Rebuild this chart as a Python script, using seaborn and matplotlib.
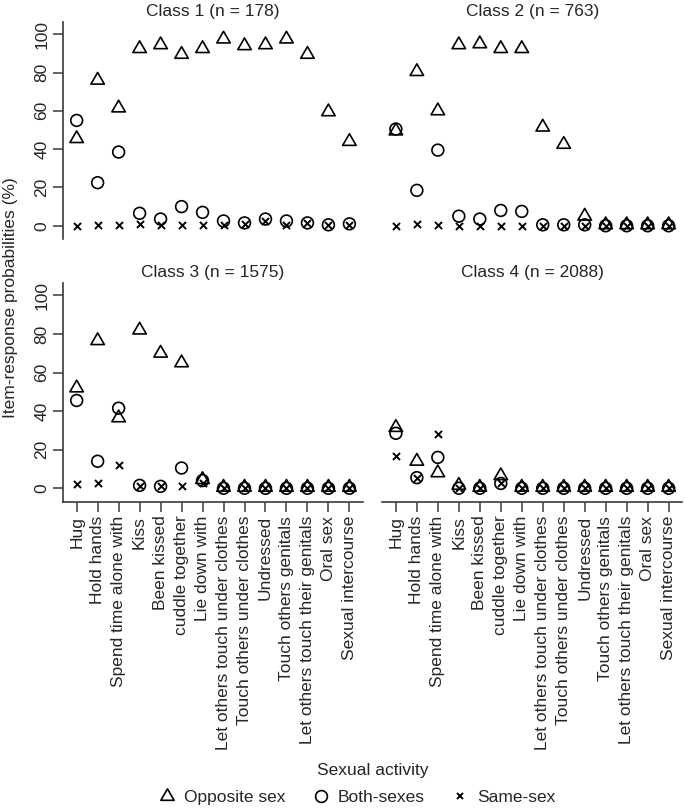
import matplotlib
matplotlib.use("Agg")
import matplotlib.pyplot as plt
from matplotlib.lines import Line2D
from matplotlib.path import Path
import seaborn as sns
import pandas as pd

activities = ["Hug", "Hold hands", "Spend time alone with", "Kiss", "Been kissed",
              "cuddle together", "Lie down with", "Let others touch under clothes",
              "Touch others under clothes", "Undressed", "Touch others genitals",
              "Let others touch their genitals", "Oral sex", "Sexual intercourse"]

class_titles = ["Class 1 (n = 178)", "Class 2 (n = 763)",
                "Class 3 (n = 1575)", "Class 4 (n = 2088)"]

# item-response probabilities (%)
c1_opposite = [45.5, 76, 61.5, 92.5, 94.5, 89.5, 92.5, 97.5, 94, 94.5, 97.5, 89.5, 59.5, 44]
c1_both = [55, 22.5, 38.5, 6.5, 3.5, 10, 7, 2.5, 1.5, 3.5, 2.5, 1.5, 0.5, 1]
c1_same = [0, 0.5, 0.5, 1, 0.5, 0.5, 0.5, 0.5, 1, 2.5, 0.5, 1.5, 0.5, 0.5]

c2_opposite = [49.5, 80.5, 60, 94.5, 95, 92.5, 92.5, 51.5, 42.5, 5, 0.5, 0.5, 0.5, 0.5]
c2_both = [50.5, 18.5, 39.5, 5, 3.5, 8, 7.5, 0.5, 0.5, 0.5, 0, 0, 0, 0]
c2_same = [0, 1, 0.5, 0, 0, 0, 0, 0, 0, 0, 0, 0, 0, 0]

c3_opposite = [52, 76.5, 36.5, 82, 70, 65, 4.5, 0.5, 0.5, 0.5, 0.5, 0.5, 0.5, 0.5]
c3_both = [45.5, 14, 41.5, 1.5, 1, 10.5, 4, 0, 0, 0, 0, 0, 0, 0]
c3_same = [2, 2.5, 12, 1, 1, 1, 2.5, 0, 0, 0, 0, 0, 0, 0]

c4_opposite = [31.5, 14, 8, 1.5, 0.5, 6.5, 0.5, 0.5, 0.5, 0.5, 0.5, 0.5, 0.5, 0.5]
c4_both = [28.5, 5.5, 16, 0, 0, 2.5, 0, 0, 0, 0, 0, 0, 0, 0]
c4_same = [16.5, 5.5, 28, 0, 0, 2.5, 0, 0, 0, 0, 0, 0, 0, 0]

series_names = ["Opposite sex", "Both-sexes", "Same-sex"]
class_values = [
    [c1_opposite, c1_both, c1_same],
    [c2_opposite, c2_both, c2_same],
    [c3_opposite, c3_both, c3_same],
    [c4_opposite, c4_both, c4_same],
]

sns.set_style("white")
plt.rcParams["font.family"] = ["Liberation Sans", "DejaVu Sans"]
fs = 12.5

# equilateral open triangle like R's pch = 2
tri = Path([(-1, -0.577), (1, -0.577), (0, 1.155), (-1, -0.577)], closed=True)
marker_kws = {
    "Opposite sex": dict(marker=tri, s=125, facecolor="none", edgecolor="black", linewidth=1.2),
    "Both-sexes": dict(marker="o", s=72, facecolor="none", edgecolor="black", linewidth=1.2),
    "Same-sex": dict(marker="x", s=26, linewidth=1.4),
}

fig = plt.figure(figsize=(6.85, 8.08), dpi=100)
positions = [
    [0.092, 0.704, 0.438, 0.269],
    [0.558, 0.704, 0.438, 0.269],
    [0.092, 0.379, 0.438, 0.271],
    [0.558, 0.379, 0.438, 0.271],
]
spine_col = "#3a3a3a"

for i, (pos, title, vals) in enumerate(zip(positions, class_titles, class_values)):
    ax = fig.add_axes(pos)
    for name, v in zip(series_names, vals):
        df = pd.DataFrame({"activity": activities, "value": v})
        sns.scatterplot(data=df, x="activity", y="value", color="black",
                        ax=ax, zorder=3, clip_on=False, **marker_kws[name])
    ax.set_xlim(-0.65, 13.65)
    ax.set_ylim(-7, 106.5)
    ax.set_title(title, fontsize=fs, pad=4)
    ax.set_xlabel("")
    ax.set_ylabel("")
    for side in ["top", "right"]:
        ax.spines[side].set_visible(False)
    left = i % 2 == 0
    bottom = i >= 2
    ax.spines["left"].set_visible(left)
    ax.spines["bottom"].set_visible(bottom)
    for side in ["left", "bottom"]:
        ax.spines[side].set_color(spine_col)
        ax.spines[side].set_linewidth(1.2)
    ax.set_yticks([0, 20, 40, 60, 80, 100])
    ax.tick_params(axis="y", left=left, labelleft=left, length=7, width=1.1,
                   color=spine_col, pad=3, labelsize=fs)
    if left:
        for lab in ax.get_yticklabels():
            lab.set_rotation(90)
            lab.set_va("center")
    ax.set_xticks(range(len(activities)))
    ax.tick_params(axis="x", bottom=bottom, labelbottom=bottom, length=7, width=1.1,
                   color=spine_col, pad=3, labelsize=fs, labelrotation=90)

fig.text(0.015, 1 - 298 / 808, "Item-response probabilities (%)", rotation=90,
         ha="center", va="center", fontsize=fs)
fig.text(373 / 685, 1 - 770 / 808, "Sexual activity", ha="center", va="center",
         fontsize=fs)

handles = [
    Line2D([], [], marker=tri, linestyle="none", markersize=11, markerfacecolor="none",
           markeredgecolor="black", markeredgewidth=1.2, color="black"),
    Line2D([], [], marker="o", linestyle="none", markersize=8.5, markerfacecolor="none",
           markeredgecolor="black", markeredgewidth=1.2, color="black"),
    Line2D([], [], marker="x", linestyle="none", markersize=5, markeredgewidth=1.4,
           color="black"),
]
fig.legend(handles, series_names, loc="center", bbox_to_anchor=(356 / 685, 1 - 797 / 808),
           ncol=3, frameon=False, fontsize=fs, handletextpad=0.4, columnspacing=1.4,
           handlelength=1.2)

fig.savefig("out.png", dpi=100)
